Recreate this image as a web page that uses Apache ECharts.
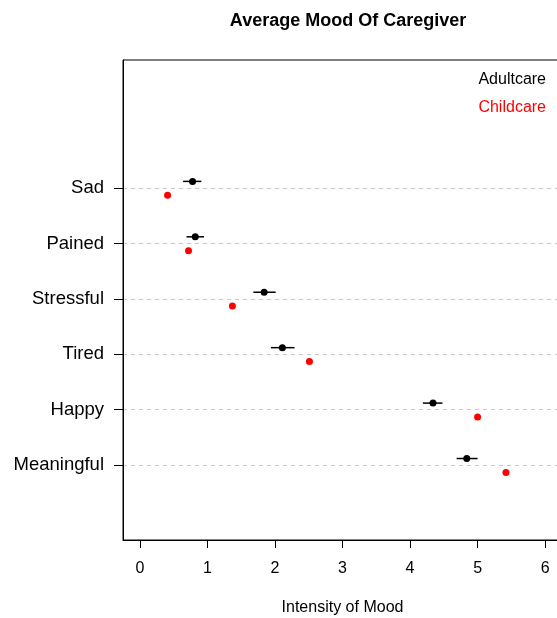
<!DOCTYPE html>
<html>
<head>
<meta charset="utf-8">
<script src="https://cdn.jsdelivr.net/npm/echarts@6/dist/echarts.min.js"></script>
<style>
  html, body { margin: 0; padding: 0; background: #fff; }
  #chart { width: 557px; height: 618px; }
</style>
</head>
<body>
<div id="chart"></div>
<script>
// bottom to top, y = 1..6
const moods = ['Meaningful', 'Happy', 'Tired', 'Stressful', 'Pained', 'Sad']
const adultMean = [4.84, 4.34, 2.11, 1.84, 0.82, 0.78]
const adultLo = [4.69, 4.19, 1.94, 1.68, 0.69, 0.64]
const adultHi = [5.00, 4.48, 2.29, 2.01, 0.95, 0.91]
const childMean = [5.42, 5.00, 2.51, 1.37, 0.72, 0.41]
const childLo = [5.38, 4.96, 2.46, 1.33, 0.68, 0.38]
const childHi = [5.46, 5.04, 2.56, 1.41, 0.76, 0.44]
const xTicks = [0, 1, 2, 3, 4, 5, 6]
const yTicks = [1, 2, 3, 4, 5, 6]

const font = 'Liberation Sans, Arial, sans-serif'
const adultOffset = 0.12
const childOffset = -0.13

const chart = echarts.init(document.getElementById('chart'), null, { renderer: 'canvas' })

const errorBars = (lo, hi, offset, color) => ({
  type: 'custom',
  silent: true,
  z: 3,
  data: moods.map((m, i) => [lo[i], hi[i], i + 1 + offset]),
  renderItem(params, api) {
    const a = api.coord([api.value(0), api.value(2)])
    const b = api.coord([api.value(1), api.value(2)])
    return {
      type: 'line',
      shape: { x1: a[0], y1: a[1], x2: b[0], y2: b[1] },
      style: { stroke: color, lineWidth: 1.5 },
    }
  },
})

const option = {
  animation: false,
  backgroundColor: '#fff',
  title: {
    text: 'Average Mood Of Caregiver',
    left: 343,
    top: 7,
    textAlign: 'center',
    textStyle: { fontFamily: font, fontSize: 18, fontWeight: 'bold', color: '#000' },
  },
  graphic: [
    { type: 'text', right: 11, top: 72, style: { text: 'Adultcare', fontFamily: font, fontSize: 16, fill: '#000' } },
    { type: 'text', right: 11, top: 100, style: { text: 'Childcare', fontFamily: font, fontSize: 16, fill: '#ff0000' } },
  ],
  grid: {
    left: 123,
    top: 60,
    width: 439,
    height: 480,
    containLabel: false,
    outerBoundsMode: 'none',
    show: true,
    borderColor: '#000',
    borderWidth: 1,
    backgroundColor: 'transparent',
  },
  xAxis: {
    type: 'value',
    min: -0.25,
    max: 6.25,
    name: 'Intensity of Mood',
    nameLocation: 'middle',
    nameGap: 60,
    nameTextStyle: { fontFamily: font, fontSize: 16, color: '#000' },
    axisLine: { show: true, onZero: false, lineStyle: { color: '#000' } },
    axisTick: { show: true, length: 8, customValues: xTicks, lineStyle: { color: '#000' } },
    axisLabel: { customValues: xTicks, margin: 21, fontFamily: font, fontSize: 16, color: '#000' },
    splitLine: { show: false },
  },
  yAxis: {
    type: 'value',
    min: -0.35,
    max: 8.31,
    axisLine: { show: true, onZero: false, lineStyle: { color: '#000' } },
    axisTick: { show: true, length: 9, customValues: yTicks, lineStyle: { color: '#000' } },
    axisLabel: {
      customValues: yTicks,
      margin: 19,
      fontFamily: font,
      fontSize: 18.5,
      color: '#000',
      padding: [6, 0, 0, 0],
      formatter: (v) => moods[Math.round(v) - 1] || '',
    },
    splitLine: {
      show: true,
      lineStyle: { color: '#c8c8c8', type: [4, 4], width: 1 },
    },
  },
  series: [
    errorBars(adultLo, adultHi, adultOffset, '#000'),
    errorBars(childLo, childHi, childOffset, '#ff0000'),
    {
      name: 'Adultcare',
      type: 'scatter',
      symbol: 'circle',
      symbolSize: 7,
      z: 4,
      itemStyle: { color: '#000', opacity: 1 },
      data: moods.map((m, i) => [adultMean[i], i + 1 + adultOffset]),
    },
    {
      name: 'Childcare',
      type: 'scatter',
      symbol: 'circle',
      symbolSize: 7,
      z: 4,
      itemStyle: { color: '#ff0000', opacity: 1 },
      data: moods.map((m, i) => [childMean[i], i + 1 + childOffset]),
    },
  ],
}

chart.setOption(option)
</script>
</body>
</html>
